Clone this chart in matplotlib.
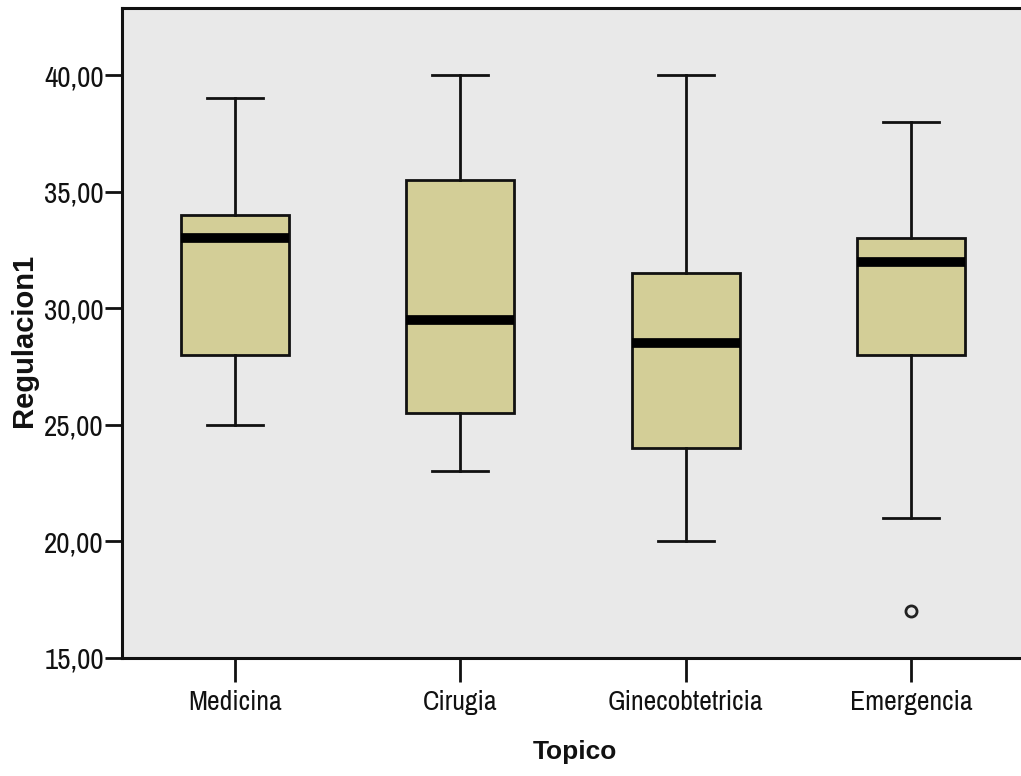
import matplotlib
matplotlib.use("Agg")
import matplotlib.pyplot as plt
from matplotlib import font_manager

# Summary statistics per topic (Regulacion1)
categories = ["Medicina", "Cirugia", "Ginecobtetricia", "Emergencia"]
whisker_low = [25.0, 23.0, 20.0, 21.0]
q1 = [28.0, 25.5, 24.0, 28.0]
median = [33.0, 29.5, 28.5, 32.0]
q3 = [34.0, 35.5, 31.5, 33.0]
whisker_high = [39.0, 40.0, 40.0, 38.0]
outliers = [[], [], [], [17.0]]

y_ticks = [15, 20, 25, 30, 35, 40]
y_tick_labels = ["15,00", "20,00", "25,00", "30,00", "35,00", "40,00"]

available = {f.name for f in font_manager.fontManager.ttflist}
family = [f for f in ["Archivo Narrow", "Roboto Condensed", "Liberation Sans", "DejaVu Sans"] if f in available]
bold_family = [f for f in ["Liberation Sans", "DejaVu Sans"] if f in available]
plt.rcParams["font.family"] = family

fig = plt.figure(figsize=(10.21, 7.76), dpi=100)
ax = fig.add_axes([122 / 1021, 1 - 658 / 776, 902 / 1021, 650 / 776])
ax.set_facecolor("#E9E9E9")

stats = []
for i, name in enumerate(categories):
    stats.append(dict(label=name, whislo=whisker_low[i], q1=q1[i], med=median[i],
                      q3=q3[i], whishi=whisker_high[i], fliers=outliers[i]))

positions = list(range(1, len(categories) + 1))
ax.bxp(stats, positions=positions, widths=0.48, patch_artist=True, showcaps=True,
       boxprops=dict(facecolor="#D3CE97", edgecolor="#111111", linewidth=2.0),
       medianprops=dict(color="black", linewidth=7, solid_capstyle="butt"),
       whiskerprops=dict(color="#111111", linewidth=2.0),
       capprops=dict(color="#111111", linewidth=2.0),
       capwidths=0.25,
       flierprops=dict(marker="o", markersize=8, markerfacecolor="none",
                       markeredgecolor="#222222", markeredgewidth=2.0))

ax.set_xlim(0.5, 4.5)
ax.set_ylim(15, 15 + 650 / 23.32)
ax.set_yticks(y_ticks)
ax.set_yticklabels(y_tick_labels, fontsize=21, color="#111111")
ax.set_xticks(positions)
ax.set_xticklabels(categories, fontsize=20, color="#111111")

ax.tick_params(axis="y", length=12, width=2, pad=1, colors="#111111")
ax.tick_params(axis="x", length=17, width=2, pad=6, colors="#111111")
for s in ["left", "bottom", "top"]:
    ax.spines[s].set_linewidth(2.2)
    ax.spines[s].set_color("#111111")
ax.spines["right"].set_visible(False)

ax.set_ylabel("Regulacion1", fontsize=21, fontweight="bold", family=bold_family, color="#111111")
ax.set_xlabel("Topico", fontsize=19, fontweight="bold", family=bold_family, color="#111111")
ax.yaxis.label.set_va("center")
ax.xaxis.label.set_va("center")
ax.yaxis.set_label_coords((24 - 122) / 902, (658 - 340) / 650)
ax.xaxis.set_label_coords((575 - 122) / 902, (658 - 752) / 650)

fig.savefig("out.png", dpi=100)
